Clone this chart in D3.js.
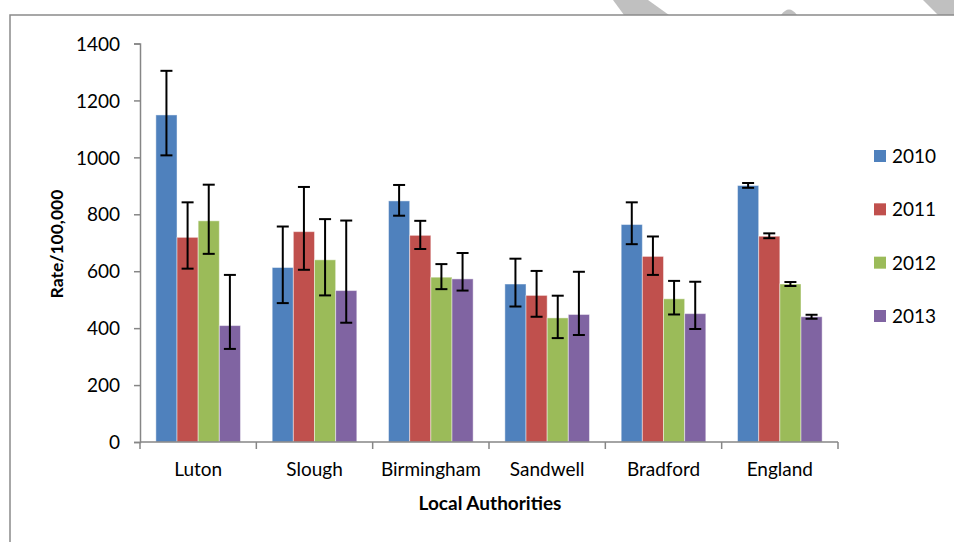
<!DOCTYPE html>
<meta charset="utf-8">
<style>
  body { margin: 0; background: #fff; }
  svg text { font-family: "Lato", "Noto Sans", sans-serif; fill: #000; }
  .axis path, .axis line { stroke: #868686; stroke-width: 1.5; }
  .axis text { font-size: 19px; }
  .err { stroke: #000; stroke-width: 2; }
</style>
<svg width="954" height="542"></svg>
<script src="https://cdn.jsdelivr.net/npm/d3@7"></script>
<script>
var categories = ["Luton", "Slough", "Birmingham", "Sandwell", "Bradford", "England"];
var years = ["2010", "2011", "2012", "2013"];
var colors = ["#4f81bd", "#c0504d", "#9bbb59", "#8064a2"];

// rate per 100,000 and 95% limits
var rate2010 = [1149, 613, 847, 555, 764, 901];
var rate2011 = [719, 739, 726, 515, 652, 723];
var rate2012 = [777, 640, 579, 436, 503, 555];
var rate2013 = [409, 532, 573, 448, 451, 440];
var low2010 = [1007, 488, 795, 476, 695, 893];
var high2010 = [1304, 757, 903, 644, 842, 910];
var low2011 = [609, 605, 678, 440, 587, 716];
var high2011 = [842, 896, 777, 601, 722, 733];
var low2012 = [661, 515, 537, 365, 448, 548];
var high2012 = [904, 783, 625, 514, 566, 562];
var low2013 = [327, 419, 532, 376, 397, 433];
var high2013 = [587, 778, 664, 598, 563, 447];
var yTicks = [0, 200, 400, 600, 800, 1000, 1200, 1400];

var rates = [rate2010, rate2011, rate2012, rate2013],
    lows = [low2010, low2011, low2012, low2013],
    highs = [high2010, high2011, high2012, high2013];

var data = [];
categories.forEach(function(c, i) {
  years.forEach(function(yr, j) {
    data.push({cat: c, year: yr, v: rates[j][i], lo: lows[j][i], hi: highs[j][i], k: j});
  });
});

var svg = d3.select("svg");

// watermark fragments peeking in above the frame
svg.append("path").attr("d", "M613,0 L648,0 L669,15 L624,15 Z").attr("fill", "#c0c0c0");
svg.append("path").attr("d", "M781,15 Q789,4 797,15 Z").attr("fill", "#c0c0c0");
svg.append("path").attr("d", "M923,0 L954,0 L954,15 L938,15 Z").attr("fill", "#c0c0c0");

// chart frame
svg.append("rect")
    .attr("x", 10).attr("y", 15).attr("width", 960).attr("height", 560)
    .attr("fill", "#fff").attr("stroke", "#8a8a8a").attr("stroke-width", 1.5);

var x0 = d3.scaleBand().domain(categories).range([140, 838]);
var x1 = d3.scaleBand().domain(years).range([0, x0.bandwidth()]).paddingOuter(0.75).paddingInner(0);
var y = d3.scaleLinear().domain([0, 1400]).range([442, 43.5]);

var g = svg.append("g");

g.selectAll(".bar")
  .data(data)
  .enter().append("rect")
    .attr("class", "bar")
    .attr("x", function(d) { return x0(d.cat) + x1(d.year); })
    .attr("y", function(d) { return y(d.v); })
    .attr("width", x1.bandwidth())
    .attr("height", function(d) { return y(0) - y(d.v); })
    .attr("fill", function(d) { return colors[d.k]; })
    .attr("stroke", "rgba(255,255,255,0.45)")
    .attr("stroke-width", 1);

// error bars
var eb = g.selectAll(".eb")
  .data(data)
  .enter().append("g")
    .attr("class", "err")
    .attr("transform", function(d) { return "translate(" + (x0(d.cat) + x1(d.year) + x1.bandwidth() / 2) + ",0)"; });
eb.append("line").attr("y1", function(d) { return y(d.lo); }).attr("y2", function(d) { return y(d.hi); });
eb.append("line").attr("x1", -6).attr("x2", 6).attr("y1", function(d) { return y(d.lo); }).attr("y2", function(d) { return y(d.lo); });
eb.append("line").attr("x1", -6).attr("x2", 6).attr("y1", function(d) { return y(d.hi); }).attr("y2", function(d) { return y(d.hi); });

// y axis
var yAxis = svg.append("g").attr("class", "axis")
    .attr("transform", "translate(140,0)")
    .call(d3.axisLeft(y).tickValues(yTicks).tickFormat(d3.format("d"))
      .tickSize(6).tickPadding(14).tickSizeOuter(6));
yAxis.selectAll("text").attr("dy", "0.35em");

// x axis, ticks on category boundaries
var xAxis = svg.append("g").attr("class", "axis").attr("transform", "translate(0,442)");
xAxis.append("line").attr("x1", 140).attr("x2", 838);
xAxis.selectAll(".tk")
  .data(categories.concat(["end"]))
  .enter().append("line")
    .attr("x1", function(d, i) { return i < categories.length ? x0(d) : x0.range()[1]; })
    .attr("x2", function(d, i) { return i < categories.length ? x0(d) : x0.range()[1]; })
    .attr("y1", 0).attr("y2", 7);
xAxis.selectAll(".lbl")
  .data(categories)
  .enter().append("text")
    .attr("x", function(d) { return x0(d) + x0.bandwidth() / 2; })
    .attr("y", 34)
    .attr("text-anchor", "middle")
    .text(function(d) { return d; });

// axis titles
svg.append("text")
    .attr("x", 490).attr("y", 510)
    .attr("text-anchor", "middle")
    .style("font-size", "19px").style("font-weight", "bold")
    .text("Local Authorities");
svg.append("text")
    .attr("transform", "translate(63,244) rotate(-90)")
    .attr("text-anchor", "middle")
    .style("font-size", "17.5px").style("font-weight", "bold")
    .text("Rate/100,000");

// legend
var ly = d3.scalePoint().domain(years).range([156, 316]);
var leg = svg.selectAll(".leg")
  .data(years)
  .enter().append("g")
    .attr("transform", function(d) { return "translate(874," + ly(d) + ")"; });
leg.append("rect").attr("x", 0).attr("y", -6).attr("width", 12).attr("height", 12)
    .attr("fill", function(d, i) { return colors[i]; });
leg.append("text").attr("x", 18).attr("dy", "0.36em").style("font-size", "19px")
    .text(function(d) { return d; });
</script>
